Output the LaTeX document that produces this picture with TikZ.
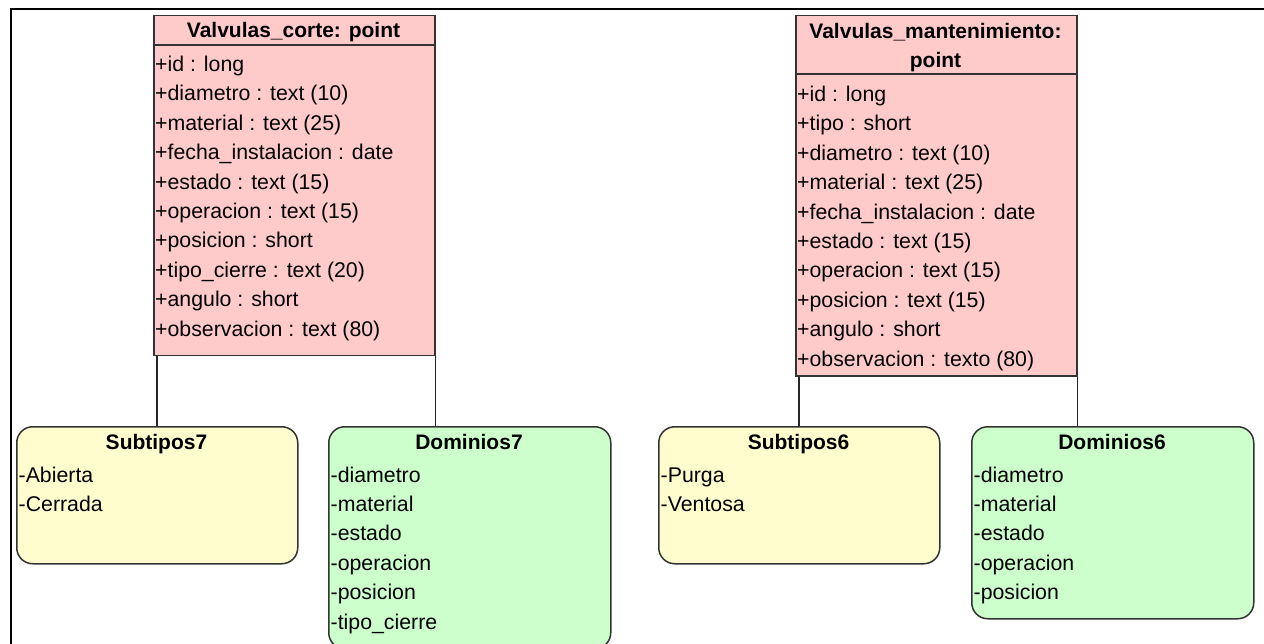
\documentclass[tikz,border=0pt]{standalone}
\usepackage{fontspec}
\setmainfont{Liberation Sans}
\definecolor{clsfill}{HTML}{FFCACA}
\definecolor{subfill}{HTML}{FFFDCD}
\definecolor{domfill}{HTML}{CCFFCC}
\definecolor{edgegray}{HTML}{333333}
\tikzset{
  clsbox/.style={draw=edgegray, fill=clsfill, line width=1.5pt, rectangle, inner sep=0pt, anchor=north west},
  subbox/.style={draw=edgegray, fill=subfill, line width=1.5pt, rectangle, rounded corners=16pt, inner sep=0pt, anchor=north west},
  dombox/.style={subbox, fill=domfill},
  sepline/.style={draw=edgegray, line width=1.5pt},
  titletext/.style={font=\fontsize{21}{26}\selectfont\bfseries, anchor=base, inner sep=0pt},
  itemtext/.style={font=\fontsize{21.3}{26}\selectfont, anchor=base west, inner sep=0pt},
  linkline/.style={draw=black!85, line width=1.6pt},
  frameline/.style={draw=black, line width=2.2pt}
}
\begin{document}
\begin{tikzpicture}[x=1pt,y=-1pt]
\useasboundingbox (0,0) rectangle (1264,644);
\clip (0,0) rectangle (1264,644);
% frame
\coordinate (fa) at (11,650);
\coordinate (fb) at (11,9);
\coordinate (fc) at (1270,9);
\draw[frameline] (fa) -- (fb) -- (fc);

% class 1
\node[clsbox, minimum width=281pt, minimum height=340pt] (c1) at (153,15) {};
\draw[sepline] ([yshift=-30pt]c1.north west) -- ([yshift=-30pt]c1.north east);
\node[titletext] (c1t) at (293.5,38) {Valvulas\_corte: point};
\foreach \t [count=\i] in {+id : long, +diametro : text (10), +material : text (25), +fecha\_instalacion : date, +estado : text (15), +operacion : text (15), +posicion : short, +tipo\_cierre : text (20), +angulo : short, +observacion : text (80)}
  \node[itemtext] (c1r\i) at (155,{71.5+29.4*(\i-1)}) {\t};

% class 2
\node[clsbox, minimum width=281pt, minimum height=360pt] (c2) at (795,15) {};
\draw[sepline] ([yshift=-59pt]c2.north west) -- ([yshift=-59pt]c2.north east);
\node[titletext] (c2t) at (935.5,39) {Valvulas\_mantenimiento:};
\node[titletext] (c2u) at (935.5,68) {point};
\foreach \t [count=\i] in {+id : long, +tipo : short, +diametro : text (10), +material : text (25), +fecha\_instalacion : date, +estado : text (15), +operacion : text (15), +posicion : text (15), +angulo : short, +observacion : texto (80)}
  \node[itemtext] (c2r\i) at (797,{101.5+29.4*(\i-1)}) {\t};

% Subtipos7
\node[subbox, minimum width=281pt, minimum height=137pt] (s7) at (16,426) {};
\node[titletext] (s7t) at (156.5,449) {Subtipos7};
\foreach \t [count=\i] in {-Abierta, -Cerrada}
  \node[itemtext] (s7r\i) at (18.5,{482+29.4*(\i-1)}) {\t};

% Dominios7
\node[dombox, minimum width=282pt, minimum height=222pt] (d7) at (328,426) {};
\node[titletext] (d7t) at (469,449) {Dominios7};
\foreach \t [count=\i] in {-diametro, -material, -estado, -operacion, -posicion, -tipo\_cierre}
  \node[itemtext] (d7r\i) at (330.5,{482+29.4*(\i-1)}) {\t};

% Subtipos6
\node[subbox, minimum width=281pt, minimum height=137pt] (s6) at (658,426) {};
\node[titletext] (s6t) at (798.5,449) {Subtipos6};
\foreach \t [count=\i] in {-Purga, -Ventosa}
  \node[itemtext] (s6r\i) at (660.5,{482+29.4*(\i-1)}) {\t};

% Dominios6
\node[dombox, minimum width=282pt, minimum height=192pt] (d6) at (971,426) {};
\node[titletext] (d6t) at (1112,449) {Dominios6};
\foreach \t [count=\i] in {-diametro, -material, -estado, -operacion, -posicion}
  \node[itemtext] (d6r\i) at (973.5,{482+29.4*(\i-1)}) {\t};

% connectors
\draw[linkline] (s7.north) -- (s7.north |- c1.south);
\draw[linkline] (c1.south east) -- (c1.south east |- d7.north);
\draw[linkline] (s6.north) -- (s6.north |- c2.south);
\draw[linkline] (c2.south east) -- (c2.south east |- d6.north);
\end{tikzpicture}
\end{document}
